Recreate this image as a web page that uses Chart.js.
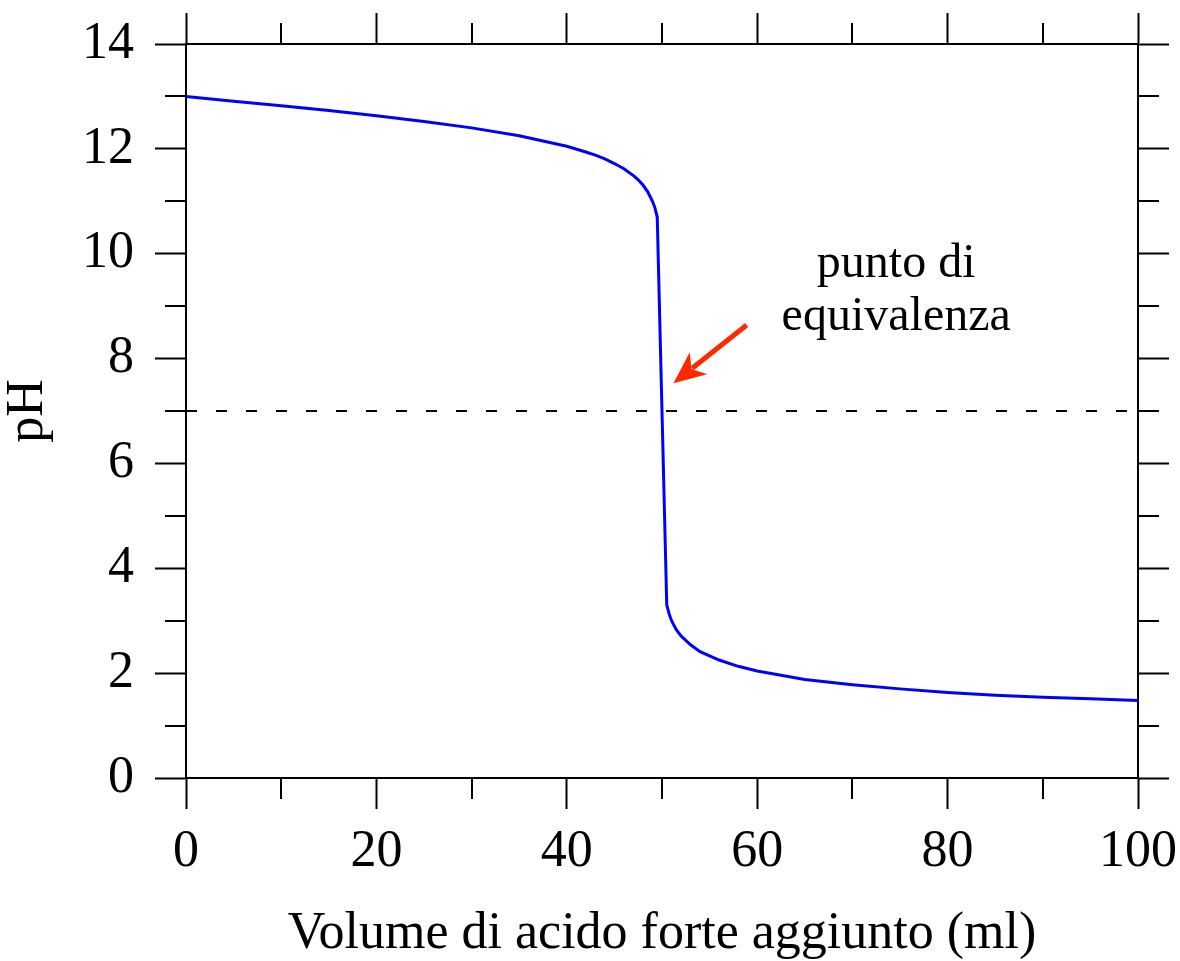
<!DOCTYPE html>
<html>
<head>
<meta charset="utf-8">
<script src="https://cdn.jsdelivr.net/npm/chart.js@4.4.0/dist/chart.umd.min.js"></script>
<style>
  html, body { margin: 0; padding: 0; background: #fff; }
  #wrap { width: 1180px; height: 961px; }
</style>
</head>
<body>
<div id="wrap"><canvas id="titration" width="1180" height="961"></canvas></div>
<script>
// volume of strong acid added (ml) and pH
const volumes = [0, 5, 10, 15, 20, 25, 30, 35, 40, 42, 43, 44, 45, 46, 47, 47.5, 48, 48.5, 49, 49.25, 49.5, 50, 50.5, 50.75, 51, 51.5, 52, 53, 54, 56, 58, 60, 65, 70, 75, 80, 85, 90, 95, 100]
const phValues = [13.00, 12.91, 12.82, 12.73, 12.63, 12.52, 12.40, 12.25, 12.05, 11.94, 11.88, 11.81, 11.72, 11.62, 11.49, 11.41, 11.31, 11.18, 11.00, 10.88, 10.70, 7.00, 3.30, 3.13, 3.00, 2.83, 2.71, 2.54, 2.41, 2.25, 2.13, 2.04, 1.88, 1.78, 1.70, 1.63, 1.58, 1.54, 1.51, 1.48]

const neutralPh = 7
const xTicks = [0, 20, 40, 60, 80, 100]
const yTicks = [0, 2, 4, 6, 8, 10, 12, 14]
const xMinor = [10, 30, 50, 70, 90]
const yMinor = [1, 3, 5, 7, 9, 11, 13]

const labelLines = ['punto di', 'equivalenza']
const labelAt = { x: 74.6, y: [9.56, 8.54] }
const arrowFrom = { x: 58.9, y: 8.64 }
const arrowTo = { x: 51.2, y: 7.53 }

const FONT = '"Liberation Serif", "Times New Roman", "DejaVu Serif", serif'

const points = volumes.map((v, i) => ({ x: v, y: phValues[i] }))

const gridOpts = (len) => ({
    drawOnChartArea: false,
    drawTicks: true,
    tickLength: len,
    tickColor: '#000',
    tickWidth: 2,
})
const borderOpts = { display: true, color: '#000', width: 2 }

// fixed box size, and no extra room for overflowing labels
const fixSize = (key, size) => (s) => {
    s[key] = size
    s.paddingLeft = s.paddingRight = s.paddingTop = s.paddingBottom = 0
}

const minorTicks = {
    id: 'minorTicks',
    afterDraw(chart) {
        const { ctx, chartArea: a } = chart
        const sx = chart.scales.x
        const sy = chart.scales.y
        const len = 21
        ctx.save()
        ctx.strokeStyle = '#000'
        ctx.lineWidth = 2
        ctx.beginPath()
        for (const v of xMinor) {
            const px = Math.round(sx.getPixelForValue(v))
            ctx.moveTo(px, a.bottom); ctx.lineTo(px, a.bottom + len)
            ctx.moveTo(px, a.top); ctx.lineTo(px, a.top - len)
        }
        for (const v of yMinor) {
            const py = Math.round(sy.getPixelForValue(v))
            ctx.moveTo(a.left, py); ctx.lineTo(a.left - len, py)
            ctx.moveTo(a.right, py); ctx.lineTo(a.right + len, py)
        }
        ctx.stroke()
        ctx.restore()
    }
}

const annotation = {
    id: 'annotation',
    afterDraw(chart) {
        const { ctx } = chart
        const sx = chart.scales.x
        const sy = chart.scales.y
        ctx.save()
        ctx.fillStyle = '#000'
        ctx.font = `48px ${FONT}`
        ctx.textAlign = 'center'
        ctx.textBaseline = 'alphabetic'
        labelLines.forEach((t, i) => {
            ctx.fillText(t, sx.getPixelForValue(labelAt.x), sy.getPixelForValue(labelAt.y[i]))
        })

        const x0 = sx.getPixelForValue(arrowFrom.x), y0 = sy.getPixelForValue(arrowFrom.y)
        const x1 = sx.getPixelForValue(arrowTo.x), y1 = sy.getPixelForValue(arrowTo.y)
        const ang = Math.atan2(y1 - y0, x1 - x0)
        const head = 32, half = 14
        const bx = x1 - head * Math.cos(ang), by = y1 - head * Math.sin(ang)
        ctx.strokeStyle = 'rgb(255, 40, 0)'
        ctx.fillStyle = 'rgb(255, 40, 0)'
        ctx.lineWidth = 5
        ctx.beginPath()
        ctx.moveTo(x0, y0)
        ctx.lineTo(bx + 8 * Math.cos(ang), by + 8 * Math.sin(ang))
        ctx.stroke()
        ctx.beginPath()
        ctx.moveTo(x1, y1)
        ctx.lineTo(bx + half * Math.sin(ang), by - half * Math.cos(ang))
        ctx.lineTo(bx + 9 * Math.cos(ang), by + 9 * Math.sin(ang))
        ctx.lineTo(bx - half * Math.sin(ang), by + half * Math.cos(ang))
        ctx.closePath()
        ctx.fill()
        ctx.restore()
    }
}

const ctx = document.getElementById('titration').getContext('2d')
new Chart(ctx, {
    type: 'line',
    data: {
        datasets: [
            {
                data: points,
                borderColor: '#0000ff',
                borderWidth: 3,
                pointRadius: 0,
                tension: 0,
                fill: false,
            },
            {
                data: [{ x: 0, y: neutralPh }, { x: 100, y: neutralPh }],
                borderColor: '#000',
                borderWidth: 2,
                borderDash: [11, 19],
                pointRadius: 0,
                fill: false,
            },
        ]
    },
    options: {
        responsive: false,
        animation: false,
        layout: { padding: 0 },
        plugins: {
            legend: { display: false },
            tooltip: { enabled: false },
        },
        scales: {
            x: {
                type: 'linear',
                position: 'bottom',
                min: 0,
                max: 100,
                afterBuildTicks: (s) => { s.ticks = xTicks.map(v => ({ value: v })) },
                ticks: { color: '#000', font: { family: FONT, size: 52 }, padding: 12, maxRotation: 0 },
                grid: gridOpts(31),
                border: borderOpts,
                title: {
                    display: true,
                    text: 'Volume di acido forte aggiunto (ml)',
                    color: '#000',
                    font: { family: FONT, size: 52, lineHeight: 1 },
                    padding: { top: 0, bottom: 1 },
                },
                afterFit: fixSize('height', 183),
            },
            x2: {
                type: 'linear',
                position: 'top',
                min: 0,
                max: 100,
                afterBuildTicks: (s) => { s.ticks = xTicks.map(v => ({ value: v })) },
                ticks: { display: false },
                grid: gridOpts(31),
                border: borderOpts,
                afterFit: fixSize('height', 44),
            },
            y: {
                type: 'linear',
                position: 'left',
                min: 0,
                max: 14,
                afterBuildTicks: (s) => { s.ticks = yTicks.map(v => ({ value: v })) },
                ticks: { color: '#000', font: { family: FONT, size: 52 }, padding: 21 },
                grid: gridOpts(31),
                border: borderOpts,
                title: {
                    display: true,
                    text: 'pH',
                    color: '#000',
                    font: { family: FONT, size: 52, lineHeight: 1 },
                    padding: { top: 2, bottom: 0 },
                },
                afterFit: fixSize('width', 186),
            },
            y2: {
                type: 'linear',
                position: 'right',
                min: 0,
                max: 14,
                afterBuildTicks: (s) => { s.ticks = yTicks.map(v => ({ value: v })) },
                ticks: { display: false },
                grid: gridOpts(31),
                border: borderOpts,
                afterFit: fixSize('width', 42),
            },
        }
    },
    plugins: [minorTicks, annotation]
})
</script>
</body>
</html>
